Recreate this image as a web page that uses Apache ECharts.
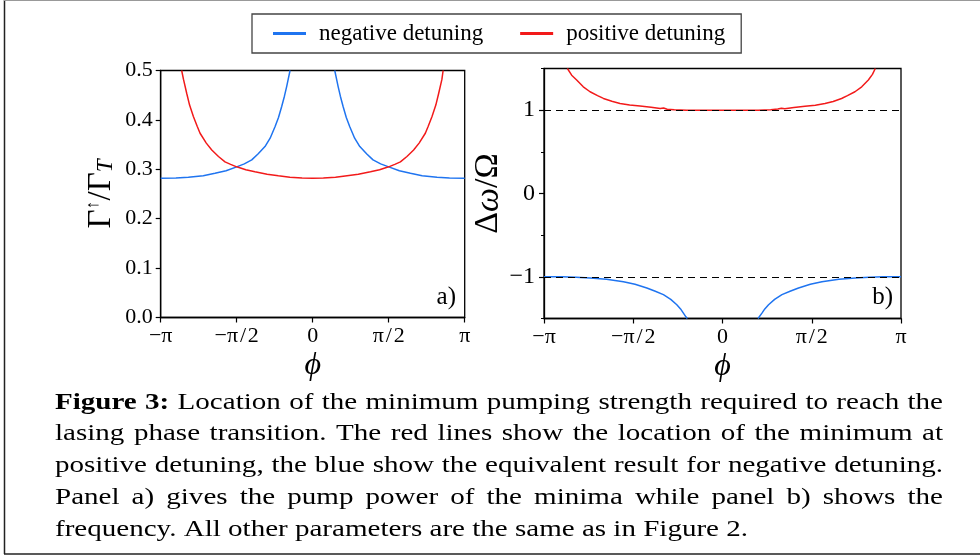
<!DOCTYPE html>
<html>
<head>
<meta charset="utf-8">
<script src="https://cdn.jsdelivr.net/npm/echarts@6/dist/echarts.min.js"></script>
<style>
html,body{margin:0;padding:0;background:#fff;}
#chart{width:980px;height:556px;}
</style>
</head>
<body>
<div id="chart"></div>
<script>
// ---------- DATA (phi in units of pi) ----------
var xTickValues = [-1, -0.5, 0, 0.5, 1];
var xTickLabels = ['\u2212\u03c0', '\u2212\u03c0\u200a/\u200a2', '0', '\u03c0\u200a/\u200a2', '\u03c0'];
var yTicksA = [0, 0.1, 0.2, 0.3, 0.4, 0.5];
var yLabelsB = [-1, 0, 1];
var refLevels = [1, -1];

// Panel a) pump strength
var phiARed = [-0.862, -0.85, -0.829, -0.81, -0.785, -0.76, -0.741, -0.70, -0.664, -0.62, -0.577, -0.54, -0.50, -0.44, -0.38, -0.30, -0.226, -0.15, -0.07, 0, 0.07, 0.15, 0.226, 0.30, 0.38, 0.44, 0.50, 0.54, 0.577, 0.62, 0.664, 0.70, 0.741, 0.76, 0.785, 0.81, 0.829, 0.85, 0.858];
var pumpARed = [0.5, 0.482, 0.454, 0.430, 0.407, 0.387, 0.373, 0.353, 0.339, 0.326, 0.315, 0.310, 0.305, 0.299, 0.295, 0.290, 0.287, 0.284, 0.2825, 0.282, 0.2825, 0.284, 0.287, 0.290, 0.295, 0.299, 0.305, 0.310, 0.315, 0.326, 0.339, 0.353, 0.373, 0.387, 0.407, 0.430, 0.454, 0.482, 0.5];
var phiABlueL = [-1, -0.9, -0.818, -0.72, -0.643, -0.57, -0.50, -0.45, -0.401, -0.36, -0.314, -0.28, -0.248, -0.225, -0.204, -0.186, -0.171, -0.16, -0.149];
var pumpABlueL = [0.282, 0.2825, 0.284, 0.287, 0.292, 0.297, 0.305, 0.311, 0.319, 0.331, 0.346, 0.363, 0.386, 0.405, 0.427, 0.448, 0.468, 0.484, 0.5];
var phiABlueR = [0.145, 0.156, 0.167, 0.182, 0.200, 0.221, 0.244, 0.276, 0.31, 0.356, 0.397, 0.447, 0.50, 0.57, 0.643, 0.72, 0.818, 0.9, 1];
var pumpABlueR = [0.5, 0.484, 0.468, 0.448, 0.427, 0.405, 0.386, 0.363, 0.346, 0.331, 0.319, 0.311, 0.305, 0.297, 0.292, 0.287, 0.284, 0.2825, 0.282];

// Panel b) frequency
var phiBRed = [-0.869, -0.845, -0.817, -0.78, -0.742, -0.70, -0.667, -0.62, -0.574, -0.52, -0.462, -0.40, -0.349, -0.33, -0.31, -0.27, -0.200, -0.1, 0, 0.1, 0.2, 0.27, 0.31, 0.33, 0.349, 0.40, 0.462, 0.52, 0.574, 0.62, 0.667, 0.70, 0.742, 0.78, 0.817, 0.84, 0.856];
var freqBRed = [1.5, 1.42, 1.362, 1.28, 1.221, 1.175, 1.141, 1.107, 1.081, 1.062, 1.049, 1.034, 1.021, 1.026, 1.012, 1.006, 1.0, 1.0, 1.0, 1.0, 1.0, 1.006, 1.014, 1.024, 1.018, 1.032, 1.047, 1.06, 1.08, 1.105, 1.14, 1.175, 1.221, 1.28, 1.362, 1.43, 1.5];
var phiBBlueL = [-1, -0.9, -0.82, -0.742, -0.65, -0.555, -0.49, -0.424, -0.38, -0.331, -0.29, -0.256, -0.235, -0.219, -0.205, -0.197];
var freqBBlueL = [-1.0, -1.0, -1.004, -1.013, -1.03, -1.06, -1.09, -1.134, -1.17, -1.214, -1.27, -1.335, -1.385, -1.436, -1.48, -1.5];
var phiBBlueR = [0.199, 0.207, 0.221, 0.237, 0.258, 0.292, 0.333, 0.382, 0.426, 0.492, 0.557, 0.652, 0.744, 0.822, 0.9, 1];
var freqBBlueR = [-1.5, -1.48, -1.436, -1.385, -1.335, -1.27, -1.214, -1.17, -1.134, -1.09, -1.06, -1.03, -1.013, -1.004, -1.0, -1.0];

var legendNames = ['negative detuning', 'positive detuning'];
var captionBold = 'Figure 3:';
var captionLines = [
  'Location of the minimum pumping strength required to reach the',
  'lasing phase transition.  The red lines show the location of the minimum at',
  'positive detuning, the blue show the equivalent result for negative detuning.',
  'Panel a) gives the pump power of the minima while panel b) shows the',
  'frequency. All other parameters are the same as in Figure 2.'
];

// ---------- STYLE ----------
var BLUE = '#1f74f0';
var RED = '#f21a1a';
var FONT = '"Liberation Serif", "Times New Roman", serif';

function pairs(xs, ys) { return xs.map(function (x, i) { return [x, ys[i]]; }); }
function xLabel(v) {
  for (var i = 0; i < xTickValues.length; i++) if (Math.abs(v - xTickValues[i]) < 1e-9) return xTickLabels[i];
  return '';
}

var chart = echarts.init(document.getElementById('chart'), null, { renderer: 'canvas' });

function xAxisCfg(gi) {
  return {
    type: 'value', gridIndex: gi, min: -1, max: 1, interval: 0.5,
    axisLine: { show: true, onZero: false, lineStyle: { color: '#000', width: 1.3 } },
    axisTick: { show: true, inside: false, length: 5, lineStyle: { color: '#000', width: 1.2 } },
    axisLabel: { formatter: xLabel, color: '#000', fontFamily: FONT, fontSize: 22, margin: 8 },
    splitLine: { show: false },
    name: '\u03d5', nameLocation: 'middle', nameGap: 32,
    nameTextStyle: { fontFamily: FONT, fontStyle: 'italic', fontSize: 32, color: '#000' }
  };
}

// caption layout via canvas measurement (justified)
var measureCtx = document.createElement('canvas').getContext('2d');
function textW(t, size, bold) {
  measureCtx.font = (bold ? 'bold ' : '') + size + 'px ' + FONT;
  return measureCtx.measureText(t).width;
}
var CAP_SIZE = 24, CAP_LEFT = 55, CAP_RIGHT = 943, CAP_LAST_RIGHT = 748, CAP_TOP = 402.5, CAP_STEP = 31.7;
var capScale = (CAP_LAST_RIGHT - CAP_LEFT) / textW(captionLines[captionLines.length - 1], CAP_SIZE, false);
var graphics = [];
captionLines.forEach(function (line, li) {
  var words = [];
  if (li === 0) captionBold.split(' ').forEach(function (w) { words.push({ t: w, b: true }); });
  line.split(/\s+/).forEach(function (w) { words.push({ t: w, b: false }); });
  var total = 0;
  words.forEach(function (w) { w.w = textW(w.t, CAP_SIZE, w.b) * capScale; total += w.w; });
  var gap = (li < captionLines.length - 1) ? (CAP_RIGHT - CAP_LEFT - total) / (words.length - 1) : textW(' ', CAP_SIZE, false) * capScale;
  var x = CAP_LEFT;
  var y = CAP_TOP + li * CAP_STEP;
  words.forEach(function (w) {
    graphics.push({
      type: 'text', x: x, y: y, scaleX: capScale,
      style: { text: w.t, fill: '#000', font: (w.b ? 'bold ' : '') + CAP_SIZE + 'px ' + FONT, verticalAlign: 'middle' }
    });
    x += w.w + gap;
  });
});
// frame lines
graphics.push({ type: 'line', shape: { x1: 4.5, y1: 0, x2: 4.5, y2: 554 }, style: { stroke: '#222', lineWidth: 1.5 } });
graphics.push({ type: 'line', shape: { x1: 4, y1: 554, x2: 980, y2: 554 }, style: { stroke: '#222', lineWidth: 1.5 } });
graphics.push({ type: 'line', shape: { x1: 4, y1: 0.5, x2: 980, y2: 0.5 }, style: { stroke: '#999', lineWidth: 1 } });
// panel tags
graphics.push({ type: 'text', x: 456, y: 297, style: { text: 'a)', fill: '#000', font: '25px ' + FONT, align: 'right', verticalAlign: 'middle' } });
graphics.push({ type: 'text', x: 893, y: 297, style: { text: 'b)', fill: '#000', font: '25px ' + FONT, align: 'right', verticalAlign: 'middle' } });

var lineBase = { type: 'line', showSymbol: false, symbol: 'none', clip: true, animation: false, z: 3 };
function mk(name, color, xi, yi, data) {
  return Object.assign({}, lineBase, { name: name, xAxisIndex: xi, yAxisIndex: yi, data: data, lineStyle: { color: color, width: 1.5 }, itemStyle: { color: color } });
}

var option = {
  animation: false,
  backgroundColor: '#fff',
  textStyle: { fontFamily: FONT },
  legend: {
    data: legendNames, left: 252, top: 14, selectedMode: false,
    icon: 'rect', itemWidth: 33, itemHeight: 3, itemGap: 37,
    padding: [8, 16, 8, 21],
    borderColor: '#444', borderWidth: 1.3,
    textStyle: { fontFamily: FONT, fontSize: 23, color: '#000', padding: [0, 0, 0, 8] }
  },
  grid: [
    { left: 160.7, top: 70.5, width: 304, height: 247, show: true, borderColor: '#000', borderWidth: 1.3, backgroundColor: 'transparent' },
    { left: 544, top: 68.5, width: 357, height: 250, show: true, borderColor: '#000', borderWidth: 1.3, backgroundColor: 'transparent' }
  ],
  xAxis: [xAxisCfg(0), xAxisCfg(1)],
  yAxis: [
    {
      type: 'value', gridIndex: 0, min: 0, max: 0.5, interval: 0.1, position: 'left',
      axisLine: { show: true, onZero: false, lineStyle: { color: '#000', width: 1.3 } },
      axisTick: { show: true, inside: false, length: 5, lineStyle: { color: '#000', width: 1.2 } },
      axisLabel: { formatter: function (v) { return v.toFixed(1); }, color: '#000', fontFamily: FONT, fontSize: 22, margin: 8 },
      splitLine: { show: false },
      name: '{g|\u0393}{s|\u2191}{g|/\u0393}{t|T}', nameLocation: 'middle', nameGap: 43,
      nameTextStyle: {
        color: '#000',
        rich: {
          g: { fontFamily: FONT, fontSize: 33, color: '#000' },
          s: { fontFamily: FONT, fontSize: 18, color: '#000', verticalAlign: 'top' },
          t: { fontFamily: FONT, fontSize: 23, fontStyle: 'italic', color: '#000', verticalAlign: 'bottom' }
        }
      }
    },
    {
      type: 'value', gridIndex: 1, min: -1.5, max: 1.5, interval: 0.5, position: 'left',
      axisLine: { show: true, onZero: false, lineStyle: { color: '#000', width: 1.3 } },
      axisTick: { show: true, inside: false, length: 5, customValues: yLabelsB, lineStyle: { color: '#000', width: 1.2 } },
      axisLabel: { customValues: yLabelsB, formatter: function (v) { return v < 0 ? '\u2212' + Math.abs(v) : String(v); }, color: '#000', fontFamily: FONT, fontSize: 24, margin: 9 },
      splitLine: { show: false },
      name: '{g|\u0394}{w|\u03c9}{g|/\u03a9}', nameLocation: 'middle', nameGap: 27,
      nameTextStyle: {
        color: '#000',
        rich: {
          g: { fontFamily: FONT, fontSize: 34, color: '#000' },
          w: { fontFamily: FONT, fontSize: 34, fontStyle: 'italic', color: '#000' }
        }
      }
    },
    {
      type: 'value', gridIndex: 1, min: -1.5, max: 1.5, interval: 0.5, position: 'left', offset: 0,
      axisLine: { show: false, onZero: false },
      axisTick: { show: true, inside: false, length: 3, lineStyle: { color: '#000', width: 1 } },
      axisLabel: { show: false },
      splitLine: { show: false }
    }
  ],
  graphic: graphics,
  series: [
    mk('negative detuning', BLUE, 0, 0, pairs(phiABlueL, pumpABlueL)),
    mk('negative detuning', BLUE, 0, 0, pairs(phiABlueR, pumpABlueR)),
    mk('positive detuning', RED, 0, 0, pairs(phiARed, pumpARed)),
    {
      type: 'line', name: 'reference', xAxisIndex: 1, yAxisIndex: 1, data: [], z: 1, animation: false,
      markLine: {
        silent: true, symbol: 'none', animation: false,
        label: { show: false },
        lineStyle: { color: '#000', type: [7, 5], width: 1 },
        data: refLevels.map(function (v) { return { yAxis: v }; })
      }
    },
    mk('negative detuning', BLUE, 1, 1, pairs(phiBBlueL, freqBBlueL)),
    mk('negative detuning', BLUE, 1, 1, pairs(phiBBlueR, freqBBlueR)),
    mk('positive detuning', RED, 1, 1, pairs(phiBRed, freqBRed))
  ]
};
chart.setOption(option);
</script>
</body>
</html>
